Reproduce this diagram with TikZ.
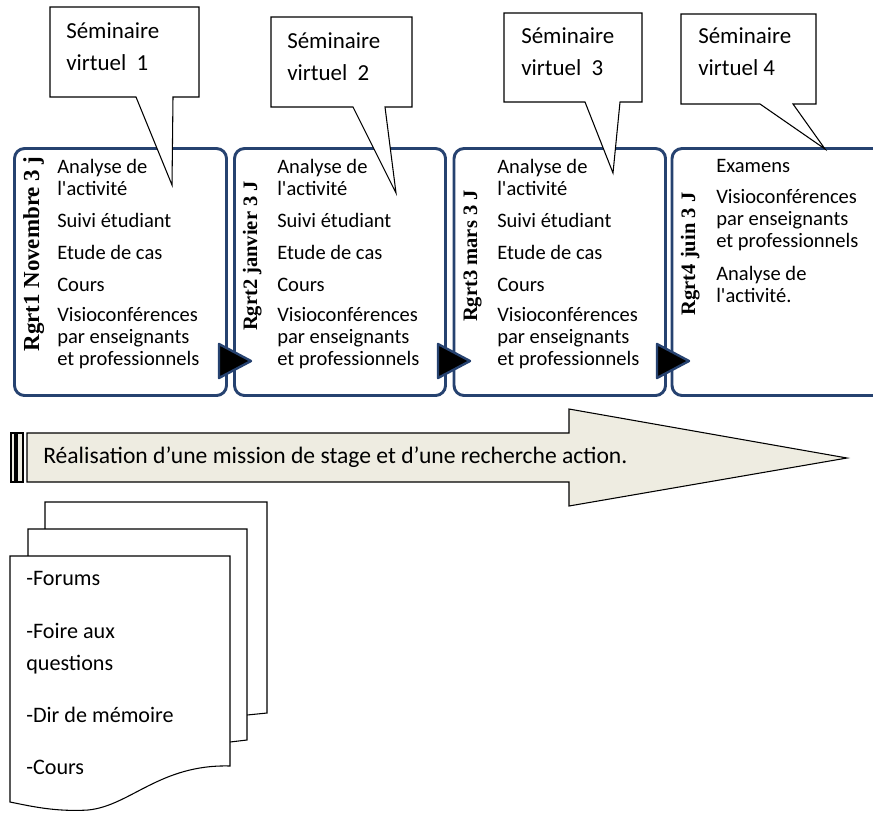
\documentclass[tikz,border=0pt]{standalone}
\usepackage{fontspec}
\setmainfont{Carlito}
\newfontfamily\labelfont{Liberation Serif}
\usetikzlibrary{
    positioning,
    calc
}
\definecolor{frameblue}{RGB}{38,66,112}
\definecolor{arrowfill}{RGB}{238,236,225}
\tikzset{
    % Colors
    frame color/.style={draw=frameblue},
    %
    % Boxes
    session box/.style={frame color,line width=2.2pt,rounded corners=7.5pt,fill=white},
    session label/.style={rotate=90,anchor=base,font=\labelfont\bfseries\fontsize{#1}{18}\selectfont},
    session label/.default=15.4,
    item/.style={anchor=base west,font=\fontsize{15.4}{16.5}\selectfont},
    next arrow/.style={fill=black,frame color,line width=1.8pt,line join=round},
    %
    % Callouts and pages
    callout/.style={draw=black,fill=white,line width=0.8pt,line join=miter},
    callout text/.style={anchor=base west,font=\fontsize{17.2}{20}\selectfont},
    page/.style={draw=black,fill=white,line width=0.8pt},
    page text/.style={anchor=base west,font=\fontsize{16.6}{20}\selectfont},
    %
    % Big arrow
    stage arrow/.style={draw=black,fill=arrowfill,line width=0.8pt}
}
\tikzstyle{every node}=[inner sep=0pt]

\begin{document}
\begin{tikzpicture}[x=0.75pt,y=-0.75pt]
        \useasboundingbox (0,0) rectangle (873,814);
        \clip (0,0) rectangle (873,814);
        % sessions
        \draw[session box] (14.5,148.5) rectangle (226.5,395.5);
        \draw[session box] (234.5,148.5) rectangle (445.5,395.5);
        \draw[session box] (454,148.5) rectangle (665.5,395.5);
        \draw[session box] (672,148.5) rectangle (900,395.5);
        \node[session label=17.2] (lab1) at (39,254) {Rgrt1 Novembre 3 j};
        \node[session label] (lab2) at (257,256) {Rgrt2 janvier 3 J};
        \node[session label] (lab3) at (477,256) {Rgrt3 mars 3 J};
        \node[session label] (lab4) at (695,254) {Rgrt4 juin 3 J};
        \foreach \bx/\n in {57/1,277/2,497/3}
            \foreach \txt/\y [count=\k] in {Analyse de/173,l\textquotesingle activité/195,Suivi étudiant/227,Etude de cas/259,Cours/291,Visioconférences/321,par enseignants/343,et professionnels/365}
                \node[item] (r\n-\k) at (\bx,\y) {\txt};
        \foreach \txt/\y [count=\k] in {Examens/172,Visioconférences/203,par enseignants/225,et professionnels/247,Analyse de/280,l\textquotesingle activité./302}
            \node[item] (r4-\k) at (716,\y) {\txt};
        \foreach \dx in {0,219,438}
            \draw[next arrow] (219+\dx,344) -- (251+\dx,361) -- (219+\dx,378) -- cycle;
        % callouts
        \draw[callout] (50,7) -- (199,7) -- (199,97) -- (173,97) -- (172,185) -- (136,97) -- (50,97) -- cycle;
        \draw[callout] (271,17) -- (412,17) -- (412,107) -- (385,107) -- (396,193) -- (353,107) -- (271,107) -- cycle;
        \draw[callout] (504,13) -- (642,13) -- (642,102) -- (620,102) -- (613,173) -- (585,102) -- (504,102) -- cycle;
        \draw[callout] (681,14) -- (816,14) -- (816,104) -- (793,104) -- (825,149) -- (760,104) -- (681,104) -- cycle;
        \foreach \n/\x/\y/\num in {1/66/38/\ \ 1,2/287/48/\ \ 2,3/521/43/\ \ 3,4/698/43/\ 4}{
            \node[callout text] (sem\n) at (\x,\y) {Séminaire};
            \node[callout text] (virt\n) at (\x,{\y+32}) {virtuel\num};
        }
        % big arrow
        \draw[stage arrow] (11,433) rectangle (15,482);
        \draw[stage arrow] (17,433) rectangle (23,482);
        \draw[stage arrow] (27,433) -- (569,433) -- (569,409) -- (847,458) -- (569,506) -- (569,482) -- (27,482) -- cycle;
        \node[anchor=base west,font=\fontsize{17.7}{20}\selectfont] (mission) at (43,463) {Réalisation d’une mission de stage et d’une recherche action.};
        % pages
        \draw[page] (45,502) -- (267,502) -- (267,713) -- (247,715) -- (45,715) -- cycle;
        \draw[page] (28,529) -- (247,529) -- (247,740) -- (230,742) -- (28,742) -- cycle;
        \draw[page] (10,556) -- (230,556) -- (230,766) .. controls (160,764) and (130,806) .. (88,810) .. controls (55,812) and (30,806) .. (10,802) -- cycle;
        \foreach \txt/\y [count=\k] in {-Forums/585,-Foire aux/638,questions/670,-Dir de mémoire/722,-Cours/774}
            \node[page text] (p\k) at (26,\y) {\txt};
    \end{tikzpicture}
\end{document}
